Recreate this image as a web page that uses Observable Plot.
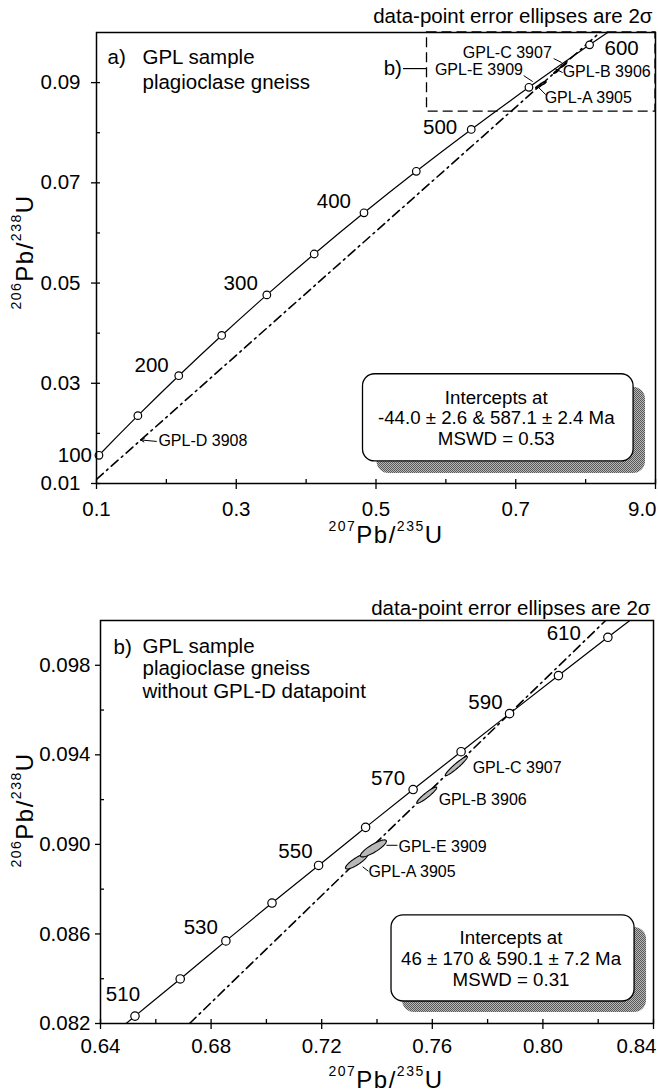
<!DOCTYPE html>
<html><head><meta charset="utf-8">
<script src="https://cdn.jsdelivr.net/npm/d3@7"></script>
<script src="https://cdn.jsdelivr.net/npm/@observablehq/plot@0.6"></script>
<style>
body{margin:0;background:#fff;}
#chart{width:658px;}
#chart svg{display:block;}
</style></head><body><div id="chart"></div>
<script>
const FONT = "'Liberation Sans', Arial, Helvetica, sans-serif";
const BIG = 20.5;

// ---------------- data : panel a ----------------
const concAgesA = [50,100,150,200,250,300,350,400,450,500,550,600,650];
const concXA = [0.05048,0.10350,0.15919,0.21770,0.27917,0.34375,0.41156,0.48281,0.55766,0.63628,0.71887,0.80563,0.89677];
const concYA = [0.00779,0.01563,0.02354,0.03151,0.03954,0.04764,0.05580,0.06402,0.07230,0.08065,0.08906,0.09754,0.10609];
const markedAgesA = [100,150,200,250,300,350,400,450,500,550,600];
const labeledAgesA = [100,200,300,400,500,600];
const discXA = [0.100, 0.900];
const discYA = [0.01083, 0.10986];
const xTicksA = [0.1,0.3,0.5,0.7,0.9];
const xTickLabelsA = ["0.1","0.3","0.5","0.7","9.0"];
const xMinorA = [0.2,0.4,0.6,0.8];
const yTicksA = [0.01,0.03,0.05,0.07,0.09];
const yMinorA = [0.02,0.04,0.06,0.08];
const sampleTextA = ["GPL sample","plagioclase gneiss"];
const interceptTextA = ["Intercepts at","-44.0 ± 2.6 & 587.1 ± 2.4 Ma","MSWD = 0.53"];

// ---------------- data : panel b ----------------
const concAgesB = [500,510,520,530,540,550,560,570,580,590,600,610,620];
const concXB = [0.63628,0.65247,0.66883,0.68535,0.70203,0.71887,0.73588,0.75306,0.77041,0.78794,0.80563,0.82350,0.84155];
const concYB = [0.08065,0.08233,0.08399,0.08569,0.08738,0.08906,0.09076,0.09245,0.09414,0.09584,0.09754,0.09925,0.10095];
const markedAgesB = [510,520,530,540,550,560,570,580,590,600,610];
const labeledAgesB = [510,530,550,570,590,610];
const discXB = [0.6722, 0.8227];
const discYB = [0.0820, 0.1000];
const xTicksB = [0.64,0.68,0.72,0.76,0.80,0.84];
const xTickLabelsB = ["0.64","0.68","0.72","0.76","0.80","0.84"];
const xMinorB = [0.66,0.70,0.74,0.78,0.82];
const yTicksB = [0.082,0.086,0.090,0.094,0.098];
const yMinorB = [0.084,0.088,0.092,0.096];
const sampleTextB = ["GPL sample","plagioclase gneiss","without GPL-D datapoint"];
const interceptTextB = ["Intercepts at","46 ± 170 & 590.1 ± 7.2 Ma","MSWD = 0.31"];

// ---------------- analyses (2σ error ellipses) ----------------
const fracNames = ["GPL-A 3905","GPL-B 3906","GPL-C 3907","GPL-E 3909"];
const fracX   = [0.7326, 0.7580, 0.7687, 0.7387];
const fracY   = [0.08924, 0.09220, 0.09350, 0.08982];
const fracSX  = [0.0040, 0.0036, 0.0040, 0.0047];
const fracSY  = [0.00034, 0.00036, 0.00043, 0.00038];
const fracRho = [0.85, 0.93, 0.95, 0.85];
const gplDName = "GPL-D 3908";

const titleText = "data-point error ellipses are 2σ";
const xTitleParts = [["207",true],["Pb/",false],["235",true],["U",false]];
const yTitleParts = [["206",true],["Pb/",false],["238",true],["U",false]];

// ---------------- layout (annotation placement) ----------------
const ageLabelLayoutA = {100:["end",-7,7],200:["end",-10,-4],300:["end",-9,-5],400:["end",-13,-5],500:["end",-14,5],600:["start",15,10]};
const ageLabelLayoutB = {510:["middle",-12,-15],530:["end",-8,-7],550:["end",-6,-7],570:["end",-8,-5],590:["end",-7,-5],610:["end",-27,3]};
const fracLabelA = [
  {name:"GPL-C 3907", tx:0.6243, ty:0.0950, lx1:0.7543, ly1:0.0948, lx2:0.7657, ly2:0.0940},
  {name:"GPL-E 3909", tx:0.5843, ty:0.0916, lx1:0.7114, ly1:0.0914, lx2:0.7243, ly2:0.0902},
  {name:"GPL-B 3906", tx:0.7671, ty:0.0912, lx1:0.7671, ly1:0.0920, lx2:0.7557, ly2:0.0928},
  {name:"GPL-A 3905", tx:0.7414, ty:0.0860, lx1:0.7429, ly1:0.0876, lx2:0.7314, ly2:0.0892}
];
const fracLabelB = [
  {name:"GPL-C 3907", tx:0.7746, ty:0.09318},
  {name:"GPL-B 3906", tx:0.7623, ty:0.09175},
  {name:"GPL-E 3909", tx:0.7478, ty:0.08964, lx1:0.7434, ly1:0.08996, lx2:0.7474, ly2:0.08996},
  {name:"GPL-A 3905", tx:0.7369, ty:0.08853, lx1:0.7348, ly1:0.08900, lx2:0.7369, ly2:0.08880}
];
const gplDLayout = {tx:0.1886, ty:0.0174, x1:0.1857, y1:0.0184, x2:0.1629, y2:0.0187};
const zoomBoxA = {x1:0.573, x2:0.9, y1:0.0842, y2:0.100};
const zoomTagA = {tx:0.5371, ty:0.0916, x1:0.5386, x2:0.573, y:0.0928};
const boxA = {x1:0.4814, x2:0.8686, y1:0.0144, y2:0.0318, sx1:0.5014, sx2:0.8857, sy1:0.0120, sy2:0.0292};
const boxB = {x1:0.74525, x2:0.83315, y1:0.082983, y2:0.086827, sx1:0.74923, sx2:0.83749, sy1:0.082492, sy2:0.086291};

// ---------------- helpers ----------------
function tableOf(ages, xs, ys){ return ages.map((t,i)=>({t, x:xs[i], y:ys[i]})); }
function ellipses(){
  const pts = [];
  fracNames.forEach((name,i)=>{
    const k = Math.sqrt(1 - fracRho[i]*fracRho[i]);
    for (let j=0;j<72;j++){
      const a = 2*Math.PI*j/72;
      pts.push({name, x: fracX[i] + fracSX[i]*Math.cos(a), y: fracY[i] + fracSY[i]*(fracRho[i]*Math.cos(a) + k*Math.sin(a))});
    }
  });
  return pts;
}
const ellPts = ellipses();

function addTitle(svg, x, y, rotate, parts){
  const t = d3.select(svg).append("text")
    .attr("font-family", FONT).attr("text-anchor","middle").attr("fill","black")
    .attr("transform", rotate ? `translate(${x},${y}) rotate(-90)` : `translate(${x},${y})`)
    .style("letter-spacing","1.5px");
  let raised = false;
  for (const [s, sup] of parts){
    const ts = t.append("tspan").text(s).attr("font-size", sup ? 14 : 24);
    if (sup && !raised){ ts.attr("dy", -12); raised = true; }
    else if (!sup && raised){ ts.attr("dy", 12); raised = false; }
  }
}
function addPattern(svg, id){
  const defs = d3.select(svg).insert("defs", ":first-child");
  const p = defs.append("pattern").attr("id", id).attr("width", 2).attr("height", 2).attr("patternUnits","userSpaceOnUse");
  p.append("rect").attr("width",2).attr("height",2).attr("fill","#b8b8b8");
  p.append("rect").attr("width",1).attr("height",1).attr("fill","#585858");
  p.append("rect").attr("x",1).attr("y",1).attr("width",1).attr("height",1).attr("fill","#585858");
}

function panel(o){
  const conc = tableOf(o.ages, o.cx, o.cy);
  const marks = [];
  if (o.zoomBox){
    marks.push(Plot.rect([o.zoomBox], {x1:"x1", x2:"x2", y1:"y1", y2:"y2", fill:"none", stroke:"black", strokeWidth:1.3, strokeDasharray:"10,5"}));
    const zt = o.zoomTag;
    marks.push(Plot.link([zt], {x1:"x1", x2:"x2", y1:"y", y2:"y", stroke:"black", strokeWidth:1.2}));
    marks.push(Plot.text(["b)"], {x:zt.tx, y:zt.ty, text:d=>d, textAnchor:"end", lineAnchor:"bottom", fontSize:BIG}));
  }
  marks.push(Plot.line(o.dx.map((x,i)=>({x, y:o.dy[i]})), {x:"x", y:"y", stroke:"black", strokeWidth:1.6, strokeDasharray:"9,4.5,1.8,4.5", clip:true}));
  marks.push(Plot.line(conc, {x:"x", y:"y", curve:"catmull-rom", stroke:"black", strokeWidth:1.2, clip:true}));
  marks.push(Plot.line(ellPts, {x:"x", y:"y", z:"name", curve:"linear-closed", fill:o.ellFill, stroke:"black", strokeWidth:o.ellStroke}));
  marks.push(Plot.dot(conc.filter(d=>o.marked.includes(d.t)), {x:"x", y:"y", r:o.r, fill:"white", stroke:"black", strokeWidth:1.2}));
  for (const t of o.labeled){
    const [anchor, dx, dy] = o.ageLayout[t];
    marks.push(Plot.text(conc.filter(d=>d.t===t), {x:"x", y:"y", text:d=>String(d.t), textAnchor:anchor, lineAnchor:"bottom", dx, dy, fontSize:BIG}));
  }
  for (const L of o.fracLabels){
    marks.push(Plot.text([L], {x:"tx", y:"ty", text:"name", textAnchor:"start", lineAnchor:"bottom", fontSize:o.fracFont}));
    if (L.lx1 !== undefined) marks.push(Plot.link([L], {x1:"lx1", y1:"ly1", x2:"lx2", y2:"ly2", stroke:"black", strokeWidth:1}));
  }
  if (o.gplD){
    const g = o.gplD;
    marks.push(Plot.arrow([g], {x1:"x1", y1:"y1", x2:"x2", y2:"y2", stroke:"black", strokeWidth:1, headLength:6, headAngle:50}));
    marks.push(Plot.text([gplDName], {x:g.tx, y:g.ty, text:d=>d, textAnchor:"start", lineAnchor:"bottom", fontSize:o.fracFont}));
  }
  const b = o.box;
  marks.push(Plot.rect([b], {x1:"sx1", x2:"sx2", y1:"sy1", y2:"sy2", rx:12, fill:`url(#${o.patId})`, stroke:"none"}));
  marks.push(Plot.rect([b], {x1:"x1", x2:"x2", y1:"y1", y2:"y2", rx:12, fill:"white", stroke:"black", strokeWidth:1.3}));
  marks.push(Plot.text([o.intercept.join("\n")], {x:(b.x1+b.x2)/2, y:(b.y1+b.y2)/2, text:d=>d, textAnchor:"middle", lineAnchor:"middle", lineHeight:1.1, fontSize:18.7, dx:-2}));
  marks.push(Plot.text([o.sample.join("\n")], {frameAnchor:"top-left", text:d=>d, dx:o.sampleDx, dy:o.sampleDy, textAnchor:"start", lineAnchor:"bottom", lineHeight:o.sampleLH, fontSize:BIG}));
  marks.push(Plot.text([o.tag], {frameAnchor:"top-left", text:d=>d, dx:o.tagDx, dy:o.tagDy, textAnchor:"start", lineAnchor:"bottom", fontSize:BIG}));
  marks.push(Plot.text([titleText], {frameAnchor:"top-right", text:d=>d, dx:-3, dy:o.titleDy, textAnchor:"end", lineAnchor:"bottom", fontSize:20.5}));
  marks.push(Plot.frame({stroke:"black", strokeWidth:1.5}));
  // ticks
  const x0 = o.xDomain[0], y0 = o.yDomain[0];
  marks.push(Plot.ruleX(o.xTicks, {x:d=>d, y1:y0, y2:y0, insetTop:-4, insetBottom:-6, stroke:"black", strokeWidth:1.3}));
  marks.push(Plot.ruleX(o.xMinor, {x:d=>d, y1:y0, y2:y0, insetTop:-4, insetBottom:0, stroke:"black", strokeWidth:1.3}));
  marks.push(Plot.ruleY(o.yTicks, {y:d=>d, x1:x0, x2:x0, insetLeft:-5, insetRight:o.yInnerMajor, stroke:"black", strokeWidth:1.3}));
  marks.push(Plot.ruleY(o.yMinor, {y:d=>d, x1:x0, x2:x0, insetLeft:0, insetRight:-4, stroke:"black", strokeWidth:1.3}));
  const labMap = new Map(o.xTicks.map((v,i)=>[v, o.xLabels[i]]));
  const xLast = o.xTicks[o.xTicks.length-1];
  marks.push(Plot.axisX(o.xTicks.slice(0,-1), {tickSize:0, tickPadding:o.xPad, tickFormat:d=>labMap.get(d), fontSize:BIG, label:null}));
  marks.push(Plot.text([xLast], {x:d=>d, y:y0, text:d=>labMap.get(d), textAnchor:"end", lineAnchor:"top", dy:o.xPad, dx:o.lastDx, fontSize:BIG}));
  marks.push(Plot.axisY(o.yTicks, {tickSize:0, tickPadding:o.yPad, tickFormat:o.yFmt, fontSize:BIG, label:null}));

  const svg = Plot.plot({
    width:658, height:o.height,
    marginTop:o.mt, marginBottom:o.mb, marginLeft:o.ml, marginRight:o.mr,
    x:{domain:o.xDomain}, y:{domain:o.yDomain},
    style:{fontFamily:FONT, background:"white", color:"black", overflow:"visible"},
    marks
  });
  addPattern(svg, o.patId);
  addTitle(svg, 386, o.xTitleY, false, xTitleParts);
  addTitle(svg, 33, o.yTitleY, true, yTitleParts);
  return svg;
}

const svgA = panel({
  height:552, mt:32, mb:69, ml:96, mr:3,
  xDomain:[0.1,0.9], yDomain:[0.01,0.10],
  ages:concAgesA, cx:concXA, cy:concYA, marked:markedAgesA, labeled:labeledAgesA, ageLayout:ageLabelLayoutA,
  dx:discXA, dy:discYA, r:3.8,
  ellFill:"#a0a0a0", ellStroke:1.5, fracLabels:fracLabelA, fracFont:16, gplD:gplDLayout,
  zoomBox:zoomBoxA, zoomTag:zoomTagA,
  box:boxA, patId:"stipA", intercept:interceptTextA,
  sample:sampleTextA, sampleDx:46, sampleDy:56, sampleLH:1.2, tag:"a)", tagDx:11, tagDy:31, titleDy:-10,
  xTicks:xTicksA, xLabels:xTickLabelsA, xMinor:xMinorA, yTicks:yTicksA, yMinor:yMinorA, yInnerMajor:-4,
  xPad:18, yPad:16, lastDx:1, yFmt:d3.format(".2f"),
  xTitleY:543, yTitleY:252
});
const svgB = panel({
  height:540, mt:68, mb:69, ml:100, mr:5,
  xDomain:[0.64,0.84], yDomain:[0.082,0.100],
  ages:concAgesB, cx:concXB, cy:concYB, marked:markedAgesB, labeled:labeledAgesB, ageLayout:ageLabelLayoutB,
  dx:discXB, dy:discYB, r:4.2,
  ellFill:"#b8b8b8", ellStroke:1.1, fracLabels:fracLabelB, fracFont:16, gplD:null,
  zoomBox:null,
  box:boxB, patId:"stipB", intercept:interceptTextB,
  sample:sampleTextB, sampleDx:42, sampleDy:77, sampleLH:1.08, tag:"b)", tagDx:13, tagDy:33, titleDy:-6,
  xTicks:xTicksB, xLabels:xTickLabelsB, xMinor:xMinorB, yTicks:yTicksB, yMinor:yMinorB, yInnerMajor:0,
  xPad:15, yPad:10, lastDx:3, yFmt:d3.format(".3f"),
  xTitleY:536, yTitleY:258
});
document.getElementById("chart").append(svgA, svgB);
</script></body></html>
